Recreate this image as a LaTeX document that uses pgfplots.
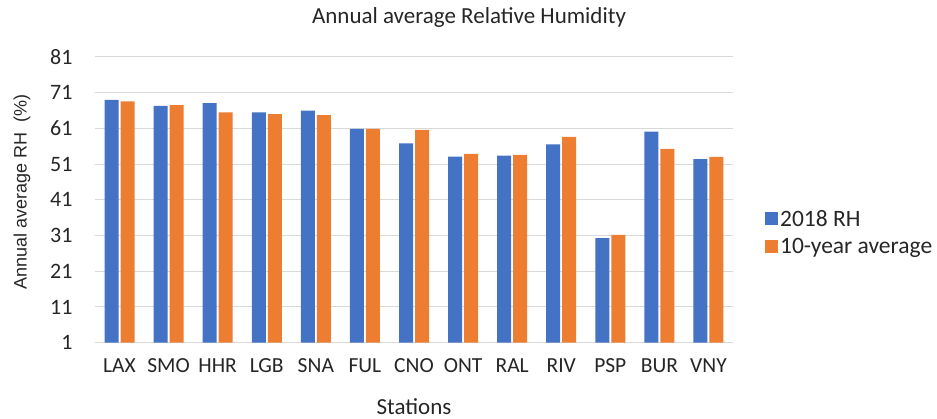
\documentclass[border=0pt]{standalone}
\usepackage{pgfplots}
\pgfplotsset{compat=1.18}
\usepackage{fontspec}
\setmainfont{Carlito}
\newfontfamily\arialfont{Liberation Sans}
\definecolor{cblue}{HTML}{4472C4}
\definecolor{corange}{HTML}{ED7D31}
\definecolor{gridgray}{HTML}{D9D9D9}
\definecolor{txt}{HTML}{262626}
\begin{document}
\begin{tikzpicture}
\path[use as bounding box] (-95pt,-76.3pt) rectangle (842pt,342.7pt);
\begin{axis}[
  at={(0pt,0pt)}, anchor=south west,
  scale only axis, width=638pt, height=285.7pt,
  clip=false,
  ymin=1, ymax=81, ytick={1,11,21,31,41,51,61,71,81},
  xmin=-0.5, xmax=12.5,
  xtick={0,...,12},
  xticklabels={LAX,SMO,HHR,LGB,SNA,FUL,CNO,ONT,RAL,RIV,PSP,BUR,VNY},
  axis line style={draw=none},
  tick style={draw=none},
  ymajorgrids, grid style={gridgray, line width=1pt},
  ybar, bar width=14pt,
  /pgf/number format/assume math mode=true,
  yticklabel style={font=\fontsize{22}{22}\selectfont, text=txt, anchor=east, xshift=-19pt},
  xticklabel style={font=\fontsize{21.5}{21.5}\selectfont, text=txt, anchor=center, yshift=-19pt},
  xlabel={Stations},
  xlabel style={font=\fontsize{23}{23}\selectfont, text=txt, at={(axis description cs:0.5,0)}, anchor=center, yshift=-64pt},
  legend style={draw=none, fill=none, at={(1.05,0.385)}, anchor=west,
    font=\fontsize{23.5}{23.5}\selectfont, text=txt, row sep=7pt, inner sep=0pt,
    nodes={inner sep=2pt}},
  legend cell align=left,
  legend image code/.code={\fill[#1] (0pt,-6.5pt) rectangle (13pt,6.5pt);},
]
\addplot[draw=none, fill=cblue] coordinates {(0,69.0) (1,67.3) (2,68.1) (3,65.5) (4,66.0) (5,60.9) (6,56.8) (7,53.1) (8,53.4) (9,56.5) (10,30.3) (11,60.1) (12,52.4)};
\addplot[draw=none, fill=corange] coordinates {(0,68.6) (1,67.5) (2,65.5) (3,65.0) (4,64.7) (5,60.9) (6,60.6) (7,53.9) (8,53.6) (9,58.6) (10,31.2) (11,55.3) (12,53.0)};
\legend{2018 RH, 10-year average}
\node[rotate=90, anchor=center, text=txt, font=\arialfont\fontsize{18}{18}\selectfont] at (axis description cs:-0.1145,0.527) {Annual average RH\ \ (\%)};
\end{axis}
\node[font=\fontsize{23}{23}\selectfont, text=txt] at (374pt,324.7pt) {Annual average Relative Humidity};
\end{tikzpicture}
\end{document}
